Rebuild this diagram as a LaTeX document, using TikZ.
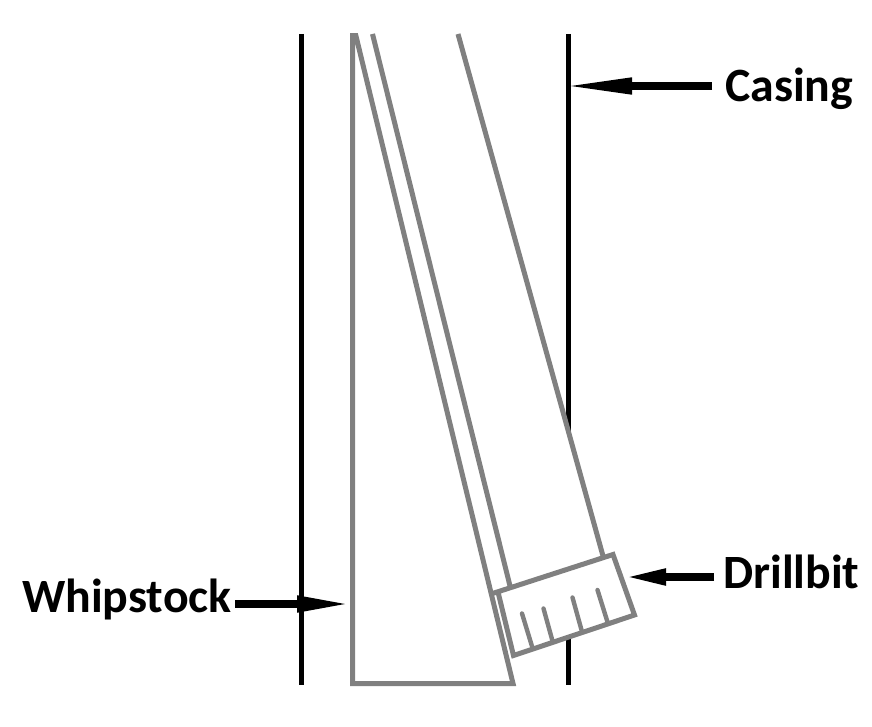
\documentclass[tikz,border=0pt]{standalone}
\usepackage{fontspec}
\setmainfont{Carlito}
\usetikzlibrary{arrows.meta}
\tikzset{
  casingline/.style={line width=5pt,black},
  toolline/.style={line width=5pt,draw={rgb,255:red,128;green,128;blue,128},line join=miter,miter limit=20},
  toothline/.style={line width=4.4pt,draw={rgb,255:red,128;green,128;blue,128},line cap=round},
  calllabel/.style={font=\bfseries\fontsize{47.8}{48}\selectfont,inner sep=0pt,anchor=base west},
  callarrow/.style 2 args={line width=7.6pt,black,-{Triangle[length=#1,width=15pt]},shorten >=-#2},
}
\begin{document}
\begin{tikzpicture}[x=1pt,y=-1pt]
\useasboundingbox (0,0) rectangle (872,727);
% casing
\coordinate (casLtop) at (301,34);
\coordinate (casLbot) at (301,685);
\coordinate (casRtop) at (568.5,34);
\coordinate (casRbot) at (568.5,685);
\draw[casingline] (casLtop) -- (casLbot);
\draw[casingline] (casRtop) -- (casRbot);
% whipstock
\coordinate (wsTS) at (351.6,18);
\coordinate (wsTL) at (352.5,20);
\coordinate (wsBR) at (513,683.5);
\coordinate (wsBL) at (352.5,683.5);
\begin{scope}
\clip (0,34) rectangle (872,727);
\draw[toolline] (wsTS) -- (wsBR) -- (wsBL) -- (wsTL);
\end{scope}
% drill pipe
\coordinate (pipeLtop) at (372.5,34);
\coordinate (pipeLbot) at (511,590);
\coordinate (pipeRtop) at (458,34);
\coordinate (pipeRbot) at (603,556);
\fill[white] (pipeLtop) -- (pipeLbot) -- (pipeRbot) -- (pipeRtop) -- cycle;
\draw[toolline] (pipeLtop) -- (pipeLbot);
\draw[toolline] (pipeRtop) -- (pipeRbot);
% drill bit
\coordinate (bitA) at (492.5,593.5);
\coordinate (bitB) at (613,554.5);
\coordinate (bitC) at (634.5,615);
\coordinate (bitD) at (513.5,655.5);
\coordinate (bitE) at (498,592);
\fill[white] (bitE) -- (bitB) -- (bitC) -- (bitD) -- cycle;
\draw[toolline] (bitA) -- (bitB) -- (bitC) -- (bitD) -- (bitE);
\foreach \n/\xa/\ya/\xb/\yb in {1/522/613.5/532.5/648,2/543.5/608.5/552.5/641,3/572.5/597.5/581.5/630,4/597.5/590/607.5/622}{
  \coordinate (t\n a) at (\xa,\ya);
  \coordinate (t\n b) at (\xb,\yb);
  \draw[toothline] (t\n a) -- (t\n b);
}
% labels
\node[calllabel] (casing) at (725,102) {Casing};
\node[calllabel] (drillbit) at (723,588.5) {Drillbit};
\node[calllabel] (whipstock) at (22,612) {Whipstock};
% arrows
\coordinate (casStart) at (712,86);
\coordinate (casTip) at (572,86);
\coordinate (bitStart) at (714,577);
\coordinate (bitTip) at (630,577);
\coordinate (wsStart) at (235,604);
\coordinate (wsTip) at (344,604);
\draw[callarrow={70pt}{10pt}] (casStart) -- (casTip);
\draw[callarrow={42pt}{6pt}] (bitStart) -- (bitTip);
\draw[callarrow={55pt}{8pt}] (wsStart) -- (wsTip);
\end{tikzpicture}
\end{document}
